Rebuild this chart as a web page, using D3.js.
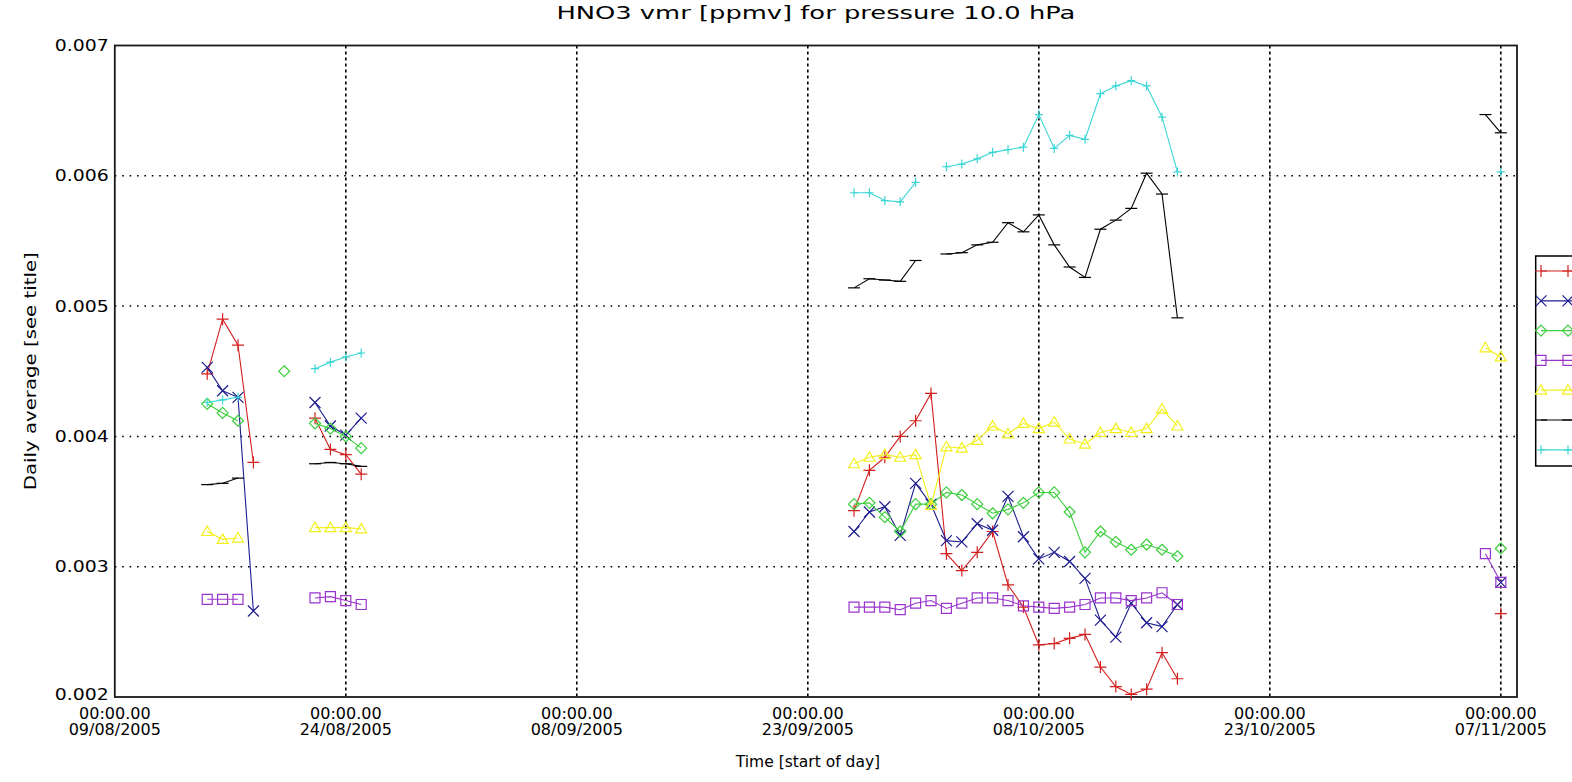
<!DOCTYPE html>
<html><head><meta charset="utf-8">
<script src="https://cdn.jsdelivr.net/npm/d3@7"></script>
<style>
body{margin:0;background:#fff;}
svg{display:block;}
text{font-family:"DejaVu Sans",sans-serif;fill:#000;}
</style>
</head><body>
<svg id="chart" width="1572" height="782"></svg>
<script>
// Day index relative to 09/08/2005 (first axis tick)
const days = [6,7,8,9,11,13,14,15,16,
  48,49,50,51,52,53,54,55,56,57,58,59,60,61,62,63,64,65,66,67,68,69,
  89,90];

const tickDays  = [0,15,30,45,60,75,90];
const tickTimes = ["00:00.00","00:00.00","00:00.00","00:00.00","00:00.00","00:00.00","00:00.00"];
const tickDates = ["09/08/2005","24/08/2005","08/09/2005","23/09/2005","08/10/2005","23/10/2005","07/11/2005"];
const yTicks    = [0.002,0.003,0.004,0.005,0.006,0.007];
const yTickLabels = ["0.002","0.003","0.004","0.005","0.006","0.007"];

const redVals = [0.00448,0.0049,0.0047,0.0038,null,0.00414,0.0039,0.00386,0.00371,
  0.00343,0.00374,0.00384,0.004,0.00412,0.00433,0.0031,0.00297,0.00311,0.00327,0.00286,0.00269,0.0024,0.00241,0.00245,0.00248,0.00223,0.00208,0.00202,0.00206,0.00234,0.00214,
  null,0.00264];
const blueVals = [0.00453,0.00435,0.0043,0.00266,null,0.00426,0.00408,0.00401,0.00414,
  0.00327,0.00342,0.00346,0.00324,0.00364,0.00348,0.0032,0.00319,0.00333,0.00328,0.00354,0.00323,0.00306,0.00311,0.00304,0.00291,0.00259,0.00246,0.00272,0.00257,0.00254,0.00271,
  null,0.00288];
const greenVals = [0.00425,0.00418,0.00412,null,0.0045,0.0041,0.00406,0.004,0.00391,
  0.00348,0.00349,0.00338,0.00327,0.00348,0.00348,0.00357,0.00355,0.00348,0.00341,0.00344,0.00349,0.00357,0.00357,0.00342,0.00311,0.00327,0.00319,0.00313,0.00317,0.00313,0.00308,
  null,0.00314];
const purpleVals = [0.00275,0.00275,0.00275,null,null,0.00276,0.00277,0.00274,0.00271,
  0.00269,0.00269,0.00269,0.00267,0.00272,0.00274,0.00268,0.00272,0.00276,0.00276,0.00274,0.0027,0.00269,0.00268,0.00269,0.00271,0.00276,0.00276,0.00274,0.00276,0.0028,0.00271,
  0.0031,0.00288];
const yellowVals = [0.00327,0.00321,0.00322,null,null,0.0033,0.0033,0.0033,0.00329,
  0.00379,0.00384,0.00386,0.00384,0.00386,0.00347,0.00392,0.00391,0.00397,0.00408,0.00402,0.0041,0.00406,0.00411,0.00398,0.00394,0.00403,0.00406,0.00403,0.00406,0.00421,0.00408,
  0.00468,0.00461];
const blackVals = [0.00363,0.00364,0.00368,null,null,0.00379,0.0038,0.00379,0.00377,
  0.00514,0.00521,0.0052,0.00519,0.00535,null,0.0054,0.00541,0.00547,0.00549,0.00564,0.00557,0.0057,0.00547,0.0053,0.00522,0.00559,0.00566,0.00575,0.00602,0.00586,0.00491,
  0.00647,0.00633];
const cyanVals = [0.00426,0.00428,0.0043,null,null,0.00452,0.00457,0.00461,0.00464,
  0.00587,0.00587,0.00581,0.0058,0.00595,null,0.00607,0.00609,0.00613,0.00618,0.0062,0.00622,0.00647,0.00621,0.00631,0.00628,0.00663,0.00669,0.00673,0.00669,0.00645,0.00603,
  null,0.00603];

const seriesColors  = ["#d41f1f","#1c1c90","#3ccf3c","#9a35cc","#f2f01c","#000000","#3cd6d6"];
const seriesMarkers = ["plus","cross","diamond","square","triangle","hbar","vtick"];
const seriesValues  = [redVals,blueVals,greenVals,purpleVals,yellowVals,blackVals,cyanVals];

const title  = "HNO3 vmr [ppmv] for pressure 10.0 hPa";
const xTitle = "Time [start of day]";
const yTitle = "Daily average [see title]";

// ---------- layout ----------
const L = 114.8, R = 1517, T = 45.5, B = 697;
const svg = d3.select("#chart");
const x = d3.scaleLinear().domain([0, 91.05]).range([L, R]);
const y = d3.scaleLinear().domain([0.002, 0.007]).range([B, T]);

// grid lines
const g = svg.append("g");
g.selectAll("line.hg").data(yTicks.filter(v => v > 0.002 && v < 0.007)).join("line")
  .attr("x1", L).attr("x2", R).attr("y1", d => y(d)).attr("y2", d => y(d))
  .attr("stroke", "#000").attr("stroke-width", 1.5).attr("stroke-dasharray", "1.6,5.8");
g.selectAll("line.vg").data(tickDays.filter(d => d > 0)).join("line")
  .attr("x1", d => x(d)).attr("x2", d => x(d)).attr("y1", T).attr("y2", B)
  .attr("stroke", "#000").attr("stroke-width", 1.6).attr("stroke-dasharray", "3,3");

// frame
svg.append("rect").attr("x", L).attr("y", T).attr("width", R - L).attr("height", B - T)
  .attr("fill", "none").attr("stroke", "#1a1a1a").attr("stroke-width", 1.8);

// y tick labels
svg.selectAll("text.yt").data(yTicks).join("text")
  .attr("x", L - 6).attr("y", (d, i) => y(d) + (i === 0 ? 3 : 5.5)).attr("text-anchor", "end")
  .attr("font-size", 16).attr("textLength", 54).attr("lengthAdjust", "spacingAndGlyphs")
  .text((d, i) => yTickLabels[i]);

// x tick labels
const xt = svg.selectAll("g.xt").data(tickDays).join("g");
xt.append("text").attr("x", d => x(d)).attr("y", 719).attr("text-anchor", "middle")
  .attr("font-size", 16).text((d, i) => tickTimes[i]);
xt.append("text").attr("x", d => x(d)).attr("y", 735).attr("text-anchor", "middle")
  .attr("font-size", 16).text((d, i) => tickDates[i]);

// titles
svg.append("text").attr("x", (L + R) / 2).attr("y", 19).attr("text-anchor", "middle")
  .attr("font-size", 18).attr("textLength", 519).attr("lengthAdjust", "spacingAndGlyphs").text(title);
svg.append("text").attr("x", 808).attr("y", 767).attr("text-anchor", "middle")
  .attr("font-size", 15.5).text(xTitle);
svg.append("text").attr("transform", `translate(36,${(T + B) / 2}) rotate(-90)`)
  .attr("text-anchor", "middle").attr("font-size", 15.5)
  .attr("textLength", 238).attr("lengthAdjust", "spacingAndGlyphs").text(yTitle);

// markers
const markerPath = {
  plus: "M-6,0H6M0,-6V6",
  cross: "M-5.5,-5.5L5.5,5.5M-5.5,5.5L5.5,-5.5",
  diamond: "M0,-5.5L5.5,0L0,5.5L-5.5,0Z",
  square: "M-5,-5H5V5H-5Z",
  triangle: "M0,-5.5L5.5,4L-5.5,4Z",
  hbar: "M-6,0H6",
  vtick: "M0,-4.5V4.5M-4,0H4"
};

const lineGen = d3.line().defined(p => p.v != null).x(p => x(p.d)).y(p => y(p.v));
seriesValues.forEach((vals, si) => {
  const pts = [];
  days.forEach((d, i) => {
    if (i > 0 && d - days[i - 1] > 1) pts.push({d: d, v: null});
    pts.push({d: d, v: vals[i]});
  });
  const col = seriesColors[si];
  const sg = svg.append("g");
  sg.append("path").attr("d", lineGen(pts)).attr("fill", "none")
    .attr("stroke", col).attr("stroke-width", 1.1);
  sg.selectAll("path.m").data(pts.filter(p => p.v != null)).join("path")
    .attr("transform", p => `translate(${x(p.d)},${y(p.v)})`)
    .attr("d", markerPath[seriesMarkers[si]])
    .attr("fill", "none").attr("stroke", col).attr("stroke-width", 1.2);
});

// legend (clipped by the window edge, as in the reference)
const lgX = 1535.7, lgY = 256, lgH = 210;
svg.append("rect").attr("x", lgX).attr("y", lgY).attr("width", 80).attr("height", lgH)
  .attr("fill", "#fff").attr("stroke", "#000").attr("stroke-width", 1.5);
seriesColors.forEach((col, si) => {
  const ly = 271 + si * 29.8;
  svg.append("line").attr("x1", 1541).attr("x2", 1600).attr("y1", ly).attr("y2", ly)
    .attr("stroke", col).attr("stroke-width", 1.2);
  [1541, 1568].forEach(mx => {
    svg.append("path").attr("transform", `translate(${mx},${ly})`)
      .attr("d", markerPath[seriesMarkers[si]]).attr("fill", "none")
      .attr("stroke", col).attr("stroke-width", 1.2);
  });
});
</script>
</body></html>
